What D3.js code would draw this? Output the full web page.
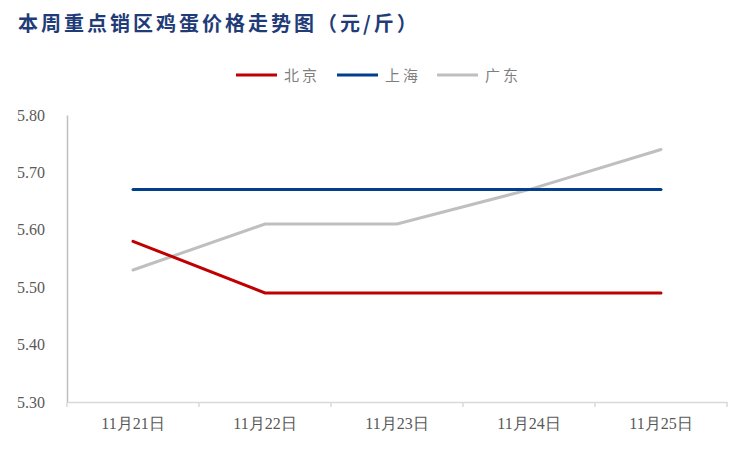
<!DOCTYPE html>
<html><head><meta charset="utf-8">
<script src="https://cdn.jsdelivr.net/npm/d3@7"></script>
<style>body{margin:0;background:#fff}</style>
</head><body>
<svg id="c" width="750" height="450"></svg>
<script>
const categories = ["11月21日","11月22日","11月23日","11月24日","11月25日"];
const beijing = [5.58,5.49,5.49,5.49,5.49];
const shanghai = [5.67,5.67,5.67,5.67,5.67];
const guangdong = [5.53,5.61,5.61,5.67,5.74];
const yTicks = [5.30,5.40,5.50,5.60,5.70,5.80];
const seriesNames = ["北京","上海","广东"];
const seriesColors = ["#C00000","#003F8C","#BFBFBF"];
const seriesData = [beijing, shanghai, guangdong];

(function(){
const svg = d3.select("#c");
const pl = 67, pr = 727, pt = 115, pb = 402;
const x = d3.scaleBand().domain(categories).range([pl, pr]);
const y = d3.scaleLinear().domain([5.30,5.80]).range([pb, pt]);

svg.append("text").attr("x",18).attr("y",31)
  .style("font-family","'Noto Sans CJK SC'").attr("font-weight","bold")
  .attr("font-size",20).attr("letter-spacing",3).attr("fill","#1F3C78").text("本周重点销区鸡蛋价格走势图（元/斤）");

// legend
const lg = [236,337,437];
seriesNames.forEach((n,i)=>{
  const g = svg.append("g");
  g.append("line").attr("x1",lg[i]).attr("x2",lg[i]+41).attr("y1",75).attr("y2",75)
    .attr("stroke",seriesColors[i]).attr("stroke-width",3);
  g.append("text").attr("x",lg[i]+48).attr("y",81).style("font-family","'Noto Sans CJK SC'")
    .attr("font-size",15).attr("letter-spacing",3).attr("fill","#7f7f7f").text(n);
});

// y axis
const ya = svg.append("g").attr("transform",`translate(${pl},0)`)
  .call(d3.axisLeft(y).tickValues(yTicks).tickFormat(d3.format(".2f")).tickSize(0).tickPadding(22));
ya.select(".domain").attr("stroke","#bfbfbf").attr("stroke-width",1.5);
ya.selectAll("text").style("font-family","'Liberation Serif','Times New Roman','DejaVu Serif',serif").style("font-size","16px").attr("fill","#595959");

// x axis
const xa = svg.append("g").attr("transform",`translate(0,${pb})`)
  .call(d3.axisBottom(x).tickSize(0).tickPadding(16));
xa.select(".domain").attr("stroke","#d9d9d9").attr("stroke-width",1.5);
xa.selectAll("text").style("font-family","'Liberation Serif','Times New Roman',serif").style("font-size","16px").attr("fill","#595959");
const bounds = categories.map(c=>x(c)).concat([pr]);
xa.selectAll(".sep").data(bounds).enter().append("line")
  .attr("x1",d=>d).attr("x2",d=>d).attr("y1",0).attr("y2",5).attr("stroke","#d9d9d9").attr("stroke-width",1.5);

const line = d3.line().x((d,i)=>x(categories[i])+x.bandwidth()/2).y(d=>y(d));
[2,1,0].forEach(i=>{
  svg.append("path").datum(seriesData[i]).attr("d",line).attr("fill","none")
    .attr("stroke",seriesColors[i]).attr("stroke-width",3).attr("stroke-linecap","round");
});
})();
</script>
</body></html>
